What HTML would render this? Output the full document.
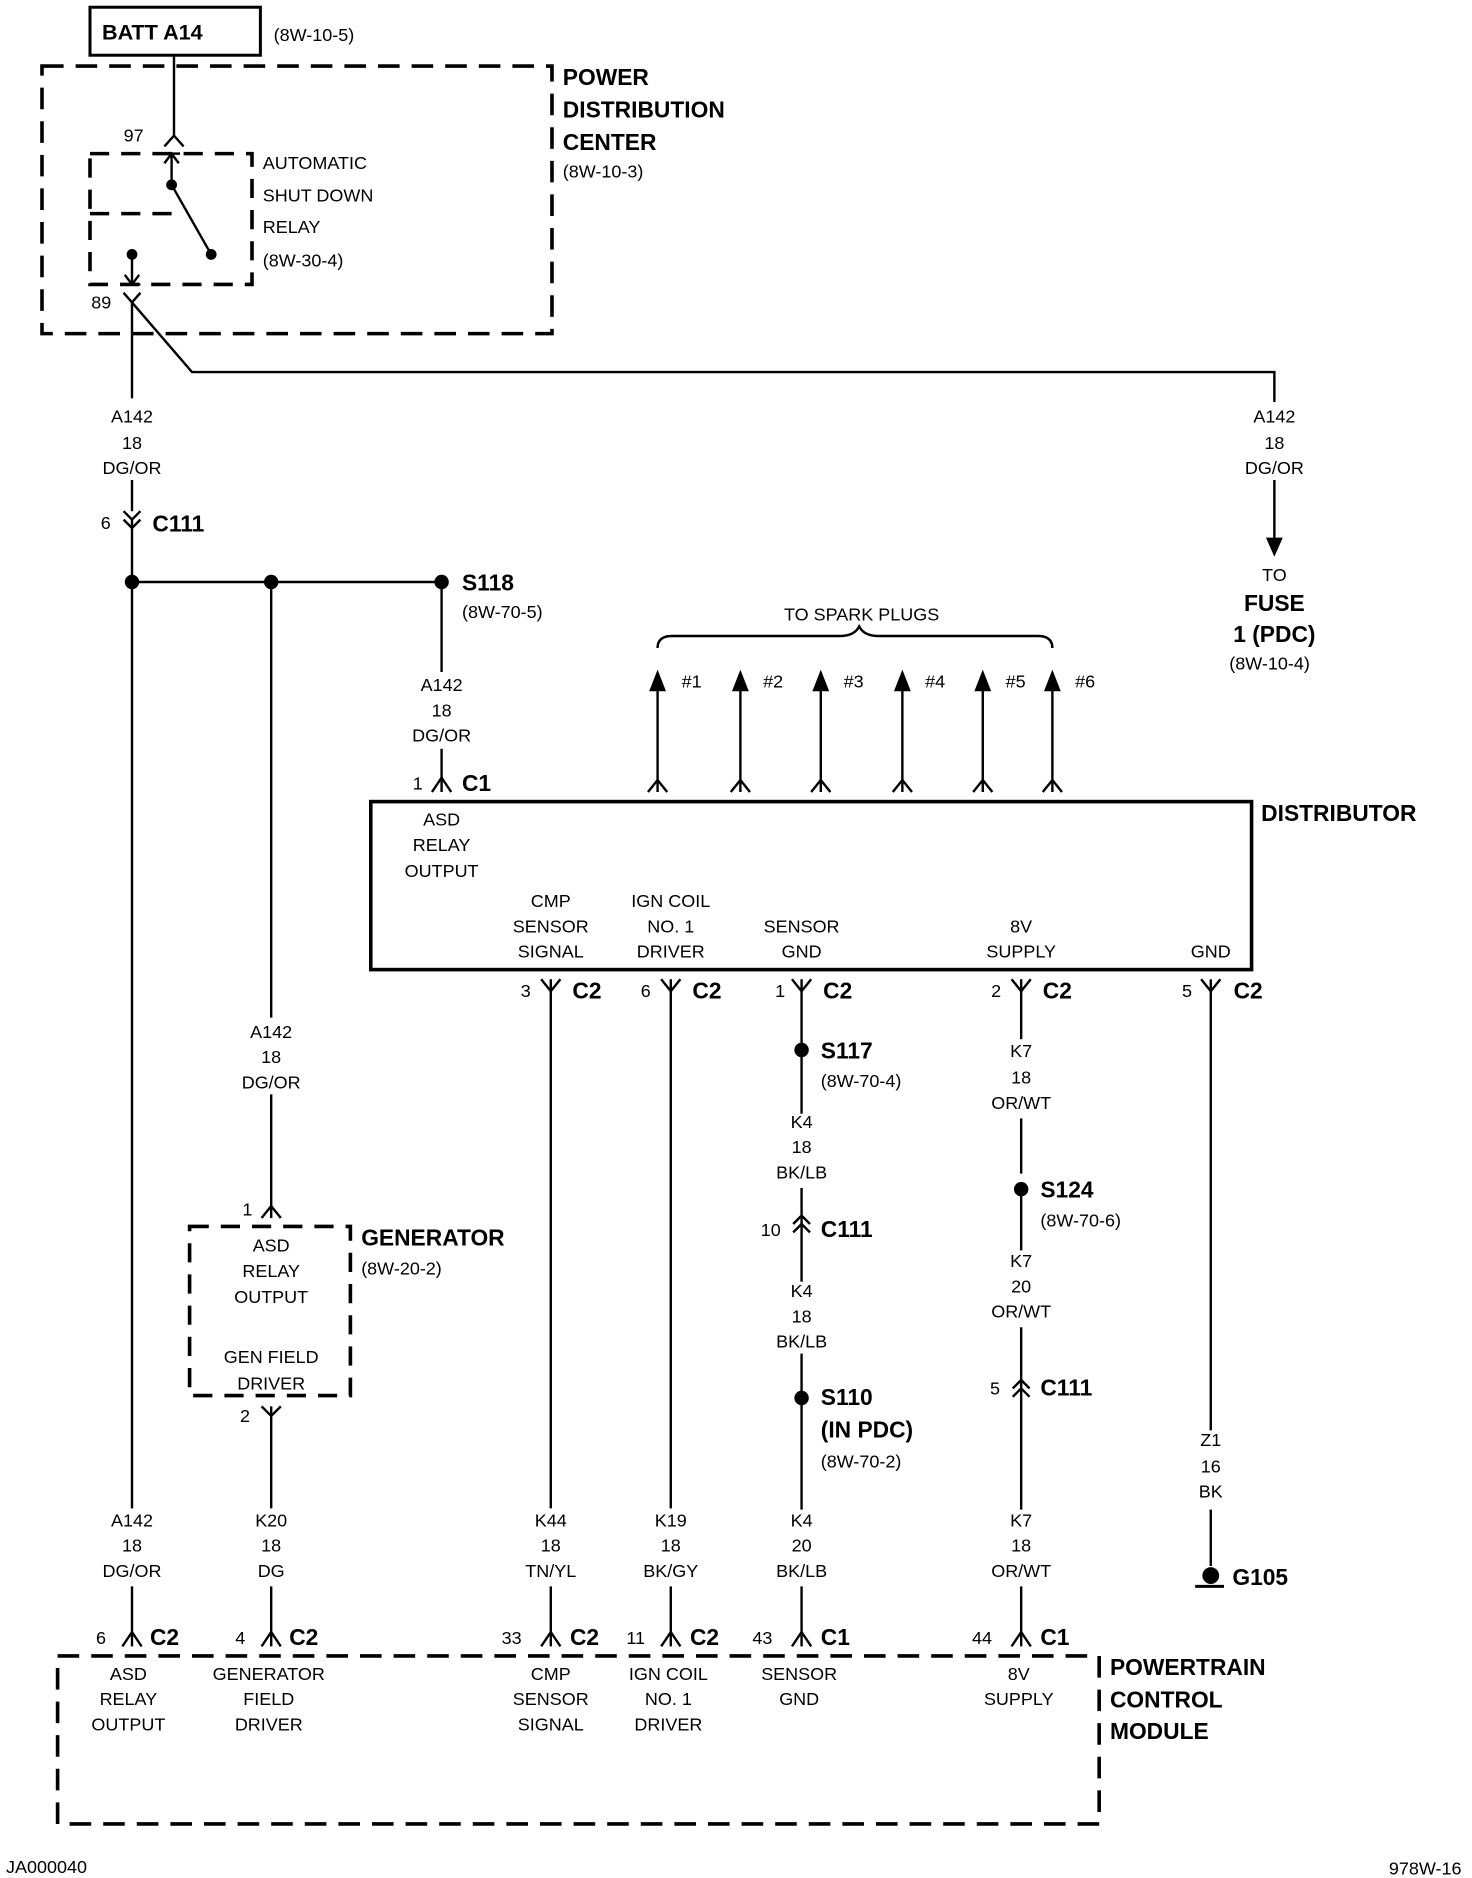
<!DOCTYPE html>
<html><head><meta charset="utf-8"><style>
html,body{margin:0;padding:0;background:#fff}
svg{display:block}
text{font-family:"Liberation Sans",sans-serif;fill:#000}
.n{font-size:15px}
.c{text-anchor:middle}
.b{font-weight:bold;font-size:19px}
</style></head><body>
<svg width="1472" height="1878" viewBox="0 0 1226.7 1565" xmlns="http://www.w3.org/2000/svg">
<g stroke="#000" fill="none" stroke-width="2">
<rect x="75" y="6" width="142" height="40" stroke-width="2.5"/>
<rect x="35" y="55" width="425" height="223" stroke-width="3" stroke-dasharray="18 10"/>
<rect x="75" y="128" width="135" height="109" stroke-width="3" stroke-dasharray="16 10"/>
<line x1="75" y1="178" x2="150" y2="178" stroke-width="3" stroke-dasharray="16 10"/>
<line x1="145" y1="46" x2="145" y2="113"/>
<polyline points="137,122 145,113 153,122"/>
<line x1="143" y1="128" x2="143" y2="154"/>
<polyline points="137,136 143,128 149,136"/>
<line x1="136" y1="128" x2="150" y2="128"/>
<line x1="143" y1="154" x2="176" y2="212"/>
<line x1="110" y1="212" x2="110" y2="237"/>
<polyline points="104,229 110,237 116,229"/>
<line x1="103" y1="237" x2="117" y2="237"/>
<polyline points="103,244 110,252 117,244"/>
<line x1="110" y1="252" x2="110" y2="332"/>
<polyline points="110,252 160,310 1062,310 1062,335"/>
<line x1="1062" y1="400" x2="1062" y2="450"/>
<line x1="110" y1="400" x2="110" y2="426"/>
<polyline points="103,426 110,433 117,426"/>
<polyline points="103,433 110,440 117,433"/>
<line x1="110" y1="433" x2="110" y2="1257"/>
<line x1="110" y1="485" x2="368" y2="485"/>
<line x1="226" y1="485" x2="226" y2="848"/>
<line x1="368" y1="485" x2="368" y2="560"/>
<line x1="368" y1="624" x2="368" y2="660"/>
<polyline points="360,660 368,648 376,660"/>
<rect x="309" y="668" width="734" height="140" stroke-width="3"/>
<g>
<line x1="548" y1="570" x2="548" y2="660"/><polyline points="540,660 548,650 556,660"/>
<line x1="617" y1="570" x2="617" y2="660"/><polyline points="609,660 617,650 625,660"/>
<line x1="684" y1="570" x2="684" y2="660"/><polyline points="676,660 684,650 692,660"/>
<line x1="752" y1="570" x2="752" y2="660"/><polyline points="744,660 752,650 760,660"/>
<line x1="819" y1="570" x2="819" y2="660"/><polyline points="811,660 819,650 827,660"/>
<line x1="877" y1="570" x2="877" y2="660"/><polyline points="869,660 877,650 885,660"/>
</g>
<path d="M548,540 Q548,530 560,530 L700,530 Q712,530 716,522 Q720,530 732,530 L865,530 Q877,530 877,540"/>
<g>
<polyline points="451,816 459,826 467,816"/><line x1="459" y1="816" x2="459" y2="1257"/>
<polyline points="551,816 559,826 567,816"/><line x1="559" y1="816" x2="559" y2="1257"/>
<polyline points="660,816 668,826 676,816"/><line x1="668" y1="816" x2="668" y2="928"/>
<polyline points="843,816 851,826 859,816"/><line x1="851" y1="816" x2="851" y2="866"/>
<polyline points="1001,816 1009,826 1017,816"/><line x1="1009" y1="816" x2="1009" y2="1192"/>
</g>
<line x1="668" y1="990" x2="668" y2="1068"/>
<polyline points="661,1020 668,1013 675,1020"/><polyline points="661,1027 668,1020 675,1027"/>
<line x1="668" y1="1128" x2="668" y2="1258"/>
<line x1="851" y1="932" x2="851" y2="978"/>
<line x1="851" y1="991" x2="851" y2="1042"/>
<line x1="851" y1="1106" x2="851" y2="1258"/>
<polyline points="844,1157 851,1150 858,1157"/><polyline points="844,1164 851,1157 858,1164"/>
<line x1="1009" y1="1258" x2="1009" y2="1305"/>
<line x1="996" y1="1322" x2="1020" y2="1322" stroke-width="2.5"/>
<line x1="226" y1="912" x2="226" y2="1015"/>
<polyline points="218,1015 226,1005 234,1015"/>
<rect x="158" y="1022" width="134" height="141" stroke-width="3" stroke-dasharray="16 10"/>
<polyline points="218,1172 226,1180 234,1172"/>
<line x1="226" y1="1172" x2="226" y2="1257"/>
<g>
<line x1="110" y1="1322" x2="110" y2="1372"/><polyline points="102,1372 110,1360 118,1372"/>
<line x1="226" y1="1322" x2="226" y2="1372"/><polyline points="218,1372 226,1360 234,1372"/>
<line x1="459" y1="1322" x2="459" y2="1372"/><polyline points="451,1372 459,1360 467,1372"/>
<line x1="559" y1="1322" x2="559" y2="1372"/><polyline points="551,1372 559,1360 567,1372"/>
<line x1="668" y1="1322" x2="668" y2="1372"/><polyline points="660,1372 668,1360 676,1372"/>
<line x1="851" y1="1322" x2="851" y2="1372"/><polyline points="843,1372 851,1360 859,1372"/>
</g>
<rect x="48" y="1380" width="868" height="140" stroke-width="3" stroke-dasharray="18 10"/>
</g>
<g fill="#000">
<circle cx="143" cy="154" r="4.5"/><circle cx="176" cy="212" r="4.5"/><circle cx="110" cy="212" r="4.5"/>
<polygon points="1055,448 1069,448 1062,464"/>
<circle cx="110" cy="485" r="6"/><circle cx="226" cy="485" r="6"/><circle cx="368" cy="485" r="6"/>
<polygon points="541,576 555,576 548,558"/><polygon points="610,576 624,576 617,558"/>
<polygon points="677,576 691,576 684,558"/><polygon points="745,576 759,576 752,558"/>
<polygon points="812,576 826,576 819,558"/><polygon points="870,576 884,576 877,558"/>
<circle cx="668" cy="875" r="6"/><circle cx="668" cy="1165" r="6"/><circle cx="851" cy="991" r="6"/>
<circle cx="1009" cy="1313" r="7"/>
</g>
<text x="85" y="33" class="b" style="font-size:18px">BATT A14</text>
<text x="228" y="34" class="n">(8W-10-5)</text>
<text x="469" y="71" class="b">POWER</text>
<text x="469" y="98" class="b">DISTRIBUTION</text>
<text x="469" y="125" class="b">CENTER</text>
<text x="469" y="148" class="n">(8W-10-3)</text>
<text x="103" y="118" class="n">97</text>
<text x="219" y="141" class="n">AUTOMATIC</text>
<text x="219" y="168" class="n">SHUT DOWN</text>
<text x="219" y="194" class="n">RELAY</text>
<text x="219" y="222" class="n">(8W-30-4)</text>
<text x="76" y="257" class="n">89</text>
<g class="n c" text-anchor="middle">
<text x="110" y="352">A142</text><text x="110" y="374">18</text><text x="110" y="395">DG/OR</text>
<text x="1062" y="352">A142</text><text x="1062" y="374">18</text><text x="1062" y="395">DG/OR</text>
<text x="1062" y="484">TO</text>
<text x="368" y="576">A142</text><text x="368" y="597">18</text><text x="368" y="618">DG/OR</text>
<text x="718" y="517">TO SPARK PLUGS</text>
<text x="368" y="688">ASD</text><text x="368" y="709">RELAY</text><text x="368" y="731">OUTPUT</text>
<text x="459" y="756">CMP</text><text x="459" y="777">SENSOR</text><text x="459" y="798">SIGNAL</text>
<text x="559" y="756">IGN COIL</text><text x="559" y="777">NO. 1</text><text x="559" y="798">DRIVER</text>
<text x="668" y="777">SENSOR</text><text x="668" y="798">GND</text>
<text x="851" y="777">8V</text><text x="851" y="798">SUPPLY</text>
<text x="1009" y="798">GND</text>
<text x="226" y="865">A142</text><text x="226" y="886">18</text><text x="226" y="907">DG/OR</text>
<text x="668" y="940">K4</text><text x="668" y="961">18</text><text x="668" y="982">BK/LB</text>
<text x="668" y="1081">K4</text><text x="668" y="1102">18</text><text x="668" y="1123">BK/LB</text>
<text x="851" y="881">K7</text><text x="851" y="903">18</text><text x="851" y="924">OR/WT</text>
<text x="851" y="1056">K7</text><text x="851" y="1077">20</text><text x="851" y="1098">OR/WT</text>
<text x="1009" y="1205">Z1</text><text x="1009" y="1227">16</text><text x="1009" y="1248">BK</text>
<text x="226" y="1043">ASD</text><text x="226" y="1064">RELAY</text><text x="226" y="1086">OUTPUT</text>
<text x="226" y="1136">GEN FIELD</text><text x="226" y="1158">DRIVER</text>
<text x="110" y="1272">A142</text><text x="110" y="1293">18</text><text x="110" y="1314">DG/OR</text>
<text x="226" y="1272">K20</text><text x="226" y="1293">18</text><text x="226" y="1314">DG</text>
<text x="459" y="1272">K44</text><text x="459" y="1293">18</text><text x="459" y="1314">TN/YL</text>
<text x="559" y="1272">K19</text><text x="559" y="1293">18</text><text x="559" y="1314">BK/GY</text>
<text x="668" y="1272">K4</text><text x="668" y="1293">20</text><text x="668" y="1314">BK/LB</text>
<text x="851" y="1272">K7</text><text x="851" y="1293">18</text><text x="851" y="1314">OR/WT</text>
<text x="107" y="1400">ASD</text><text x="107" y="1421">RELAY</text><text x="107" y="1442">OUTPUT</text>
<text x="224" y="1400">GENERATOR</text><text x="224" y="1421">FIELD</text><text x="224" y="1442">DRIVER</text>
<text x="459" y="1400">CMP</text><text x="459" y="1421">SENSOR</text><text x="459" y="1442">SIGNAL</text>
<text x="557" y="1400">IGN COIL</text><text x="557" y="1421">NO. 1</text><text x="557" y="1442">DRIVER</text>
<text x="666" y="1400">SENSOR</text><text x="666" y="1421">GND</text>
<text x="849" y="1400">8V</text><text x="849" y="1421">SUPPLY</text>
</g>
<text x="1062" y="509" class="b" text-anchor="middle">FUSE</text>
<text x="1062" y="535" class="b" text-anchor="middle">1 (PDC)</text>
<text x="1058" y="558" class="n" text-anchor="middle">(8W-10-4)</text>
<text x="84" y="441" class="n">6</text><text x="127" y="443" class="b">C111</text>
<text x="385" y="492" class="b">S118</text><text x="385" y="515" class="n">(8W-70-5)</text>
<text x="344" y="658" class="n">1</text><text x="385" y="659" class="b">C1</text>
<text x="1051" y="684" class="b">DISTRIBUTOR</text>
<text x="568" y="573" class="n">#1</text><text x="636" y="573" class="n">#2</text><text x="703" y="573" class="n">#3</text>
<text x="771" y="573" class="n">#4</text><text x="838" y="573" class="n">#5</text><text x="896" y="573" class="n">#6</text>
<text x="434" y="831" class="n">3</text><text x="477" y="832" class="b">C2</text>
<text x="534" y="831" class="n">6</text><text x="577" y="832" class="b">C2</text>
<text x="646" y="831" class="n">1</text><text x="686" y="832" class="b">C2</text>
<text x="826" y="831" class="n">2</text><text x="869" y="832" class="b">C2</text>
<text x="985" y="831" class="n">5</text><text x="1028" y="832" class="b">C2</text>
<text x="684" y="882" class="b">S117</text><text x="684" y="906" class="n">(8W-70-4)</text>
<text x="634" y="1030" class="n">10</text><text x="684" y="1031" class="b">C111</text>
<text x="684" y="1171" class="b">S110</text><text x="684" y="1198" class="b">(IN PDC)</text><text x="684" y="1223" class="n">(8W-70-2)</text>
<text x="867" y="998" class="b">S124</text><text x="867" y="1022" class="n">(8W-70-6)</text>
<text x="825" y="1162" class="n">5</text><text x="867" y="1163" class="b">C111</text>
<text x="1027" y="1321" class="b">G105</text>
<text x="202" y="1013" class="n">1</text>
<text x="301" y="1038" class="b">GENERATOR</text><text x="301" y="1062" class="n">(8W-20-2)</text>
<text x="200" y="1185" class="n">2</text>
<text x="80" y="1370" class="n">6</text><text x="125" y="1371" class="b">C2</text>
<text x="196" y="1370" class="n">4</text><text x="241" y="1371" class="b">C2</text>
<text x="418" y="1370" class="n">33</text><text x="475" y="1371" class="b">C2</text>
<text x="522" y="1370" class="n">11</text><text x="575" y="1371" class="b">C2</text>
<text x="627" y="1370" class="n">43</text><text x="684" y="1371" class="b">C1</text>
<text x="810" y="1370" class="n">44</text><text x="867" y="1371" class="b">C1</text>
<text x="925" y="1396" class="b">POWERTRAIN</text>
<text x="925" y="1423" class="b">CONTROL</text>
<text x="925" y="1449" class="b">MODULE</text>
<text x="5" y="1561" class="n">JA000040</text>
<text x="1218" y="1562" class="n" text-anchor="end">978W-16</text>
</svg>
</body></html>
